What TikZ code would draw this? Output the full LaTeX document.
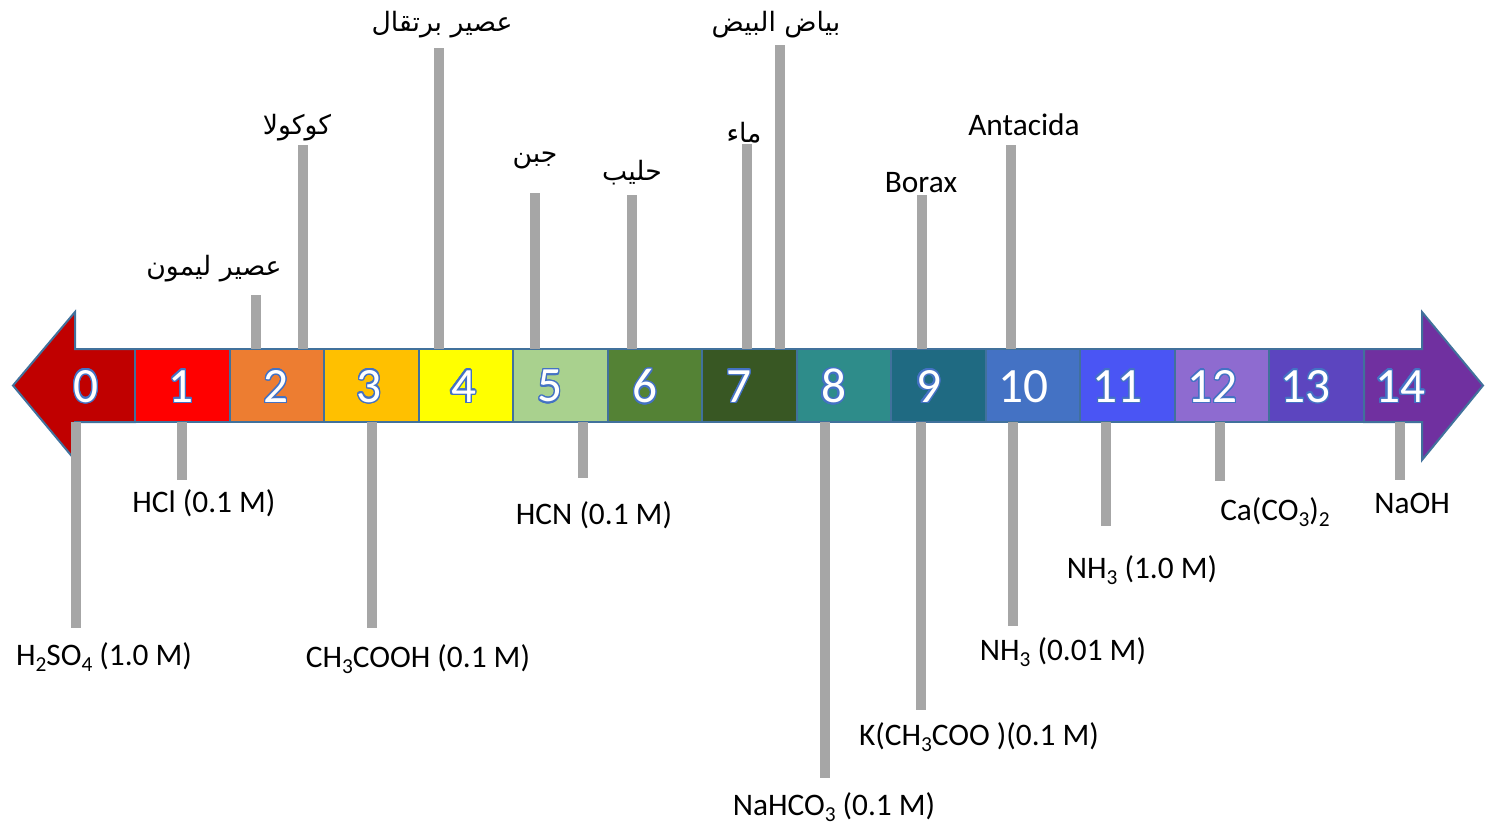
\documentclass[tikz,border=0pt]{standalone}
\usepackage{fontspec}
\setmainfont{Carlito}
\newfontfamily\arabicfont[Script=Arabic]{DejaVu Sans}
\TeXXeTstate=1
\usepackage{contour}
\contourlength{1.1pt}
\contournumber{24}

\newcommand\chsub[1]{\raisebox{-5pt}{\fontsize{16}{16}\selectfont #1}}

\definecolor{ph0}{HTML}{C00000}
\definecolor{ph1}{HTML}{FF0000}
\definecolor{ph2}{HTML}{ED7D31}
\definecolor{ph3}{HTML}{FFC000}
\definecolor{ph4}{HTML}{FFFF00}
\definecolor{ph5}{HTML}{A9D18E}
\definecolor{ph6}{HTML}{548235}
\definecolor{ph7}{HTML}{385723}
\definecolor{ph8}{HTML}{2E8C8A}
\definecolor{ph9}{HTML}{1F6A82}
\definecolor{ph10}{HTML}{4472C4}
\definecolor{ph11}{HTML}{4A55F4}
\definecolor{ph12}{HTML}{8E6BD0}
\definecolor{ph13}{HTML}{5C45BF}
\definecolor{ph14}{HTML}{7030A0}
\definecolor{edgeblue}{HTML}{41719C}
\definecolor{digitedge}{HTML}{4472C4}
\definecolor{stickgray}{HTML}{A6A6A6}

\def\barTop{349}
\def\barBot{422}
\def\barMid{385.5}
\def\digitMid{387}
\def\cellW{94.54}
\def\cellStart{135}
\def\headTop{312}
\def\headBot{460}

\tikzset{
  cell/.style = {draw = edgeblue, line width = 1.5pt, inner sep = 0pt,
    minimum width = 70.9pt, minimum height = 54.75pt},
  phnum/.style = {font = \fontsize{37}{37}\selectfont, text = white, inner sep = 0pt},
  stick/.style = {draw = stickgray, line width = 7.5pt},
  chemlab/.style = {font = \fontsize{23.5}{23.5}\selectfont, anchor = base, inner sep = 0pt},
  arlab/.style = {font = \arabicfont\fontsize{20}{20}\selectfont, inner sep = 0pt},
}

\begin{document}
\begin{tikzpicture}[x = 0.75pt, y = -0.75pt]
  \useasboundingbox (0,0) rectangle (1486,826);
  %% arrow heads
  \draw [fill = ph0, draw = edgeblue, line width = 1.5pt]
  (\cellStart,\barTop) -- (75,\barTop) -- (75,\headTop)
  -- (13,\barMid) -- (75,\headBot) -- (75,\barBot)
  -- (\cellStart,\barBot) -- cycle
  ;
  \draw [fill = ph14, draw = edgeblue, line width = 1.5pt]
  (1364,\barTop) -- (1422,\barTop) -- (1422,\headTop)
  -- (1483,\barMid) -- (1422,\headBot) -- (1422,\barBot)
  -- (1364,\barBot) -- cycle
  ;
  %% cells
  \foreach \i in {1,...,13} {
    \node [cell, fill = ph\i] (c\i) at ({\cellStart+(\i-0.5)*\cellW},\barMid) {};
  }
  %% numbers
  \foreach \i/\nx in {0/86, 1/181, 2/276, 3/369, 4/463.5, 5/550, 6/645,
    7/739, 8/833.5, 9/928.5, 10/1023.5, 11/1117.5, 12/1212.5, 13/1305.5, 14/1400} {
    \node [phnum] (n\i) at (\nx,\digitMid) {\contour{digitedge}{\i}};
  }
  %% acids and bases above the bar
  \foreach \x/\y/\lx/\ly/\nm/\txt in {
    256/295/214/269/lemon/{عصير ليمون},
    303/145/297/128/cola/{كوكولا},
    439/48/442/25/orange/{عصير برتقال},
    535/193/535/160/cheese/{جبن},
    632/195/632/173/milk/{حليب},
    747/144/744/133/water/{ماء},
    780/45/776/25/eggwhite/{بياض البيض}} {
    \node [arlab] (\nm) at (\lx,\ly) {\beginR\txt\endR};
    \coordinate (\nm-foot) at (\x,\barTop);
    \coordinate (\nm-tip) at (\x,\y);
    \draw [stick] (\nm-foot) -- (\nm-tip);
  }
  \foreach \x/\y/\lx/\ly/\nm/\txt in {
    922/195/921/192/borax/{Borax},
    1011/145/1024/135/antacida/{Antacida}} {
    \node [chemlab] (\nm) at (\lx,\ly) {\txt};
    \coordinate (\nm-foot) at (\x,\barTop);
    \coordinate (\nm-tip) at (\x,\y);
    \draw [stick] (\nm-foot) -- (\nm-tip);
  }
  %% below the bar
  \foreach \x/\y/\lx/\ly/\nm/\txt in {
    76/628/104/665/sulfuric/{H\chsub{2}SO\chsub{4} (1.0 M)},
    182/480/204/512/hcl/{HCl (0.1 M)},
    372/628/418/667/acetic/{CH\chsub{3}COOH (0.1 M)},
    583/478/594/524/hcn/{HCN (0.1 M)},
    825/778/834/815/bicarb/{NaHCO\chsub{3} (0.1 M)},
    921/710/979/745/acetate/{K(CH\chsub{3}COO )(0.1 M)},
    1013/626/1063/660/ammoniaweak/{NH\chsub{3} (0.01 M)},
    1106/526/1142/578/ammonia/{NH\chsub{3} (1.0 M)},
    1220/481/1275/520/carbonate/{Ca(CO\chsub{3})\chsub{2}},
    1400/480/1412/513/naoh/{NaOH}} {
    \node [chemlab] (\nm) at (\lx,\ly) {\txt};
    \coordinate (\nm-foot) at (\x,\barBot);
    \coordinate (\nm-tip) at (\x,\y);
    \draw [stick] (\nm-foot) -- (\nm-tip);
  }
\end{tikzpicture}
\end{document}
